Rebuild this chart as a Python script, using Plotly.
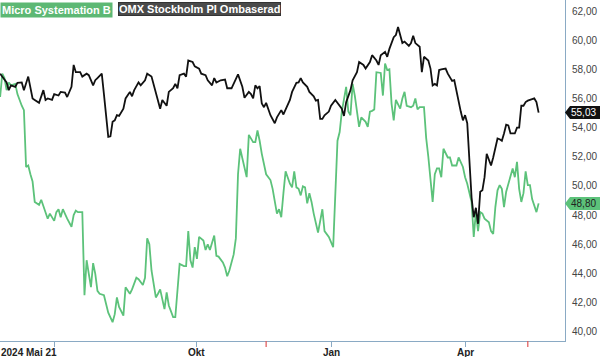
import pandas as pd
import plotly.graph_objects as go

# ---- data (trading-session index from 2024-05-21, value) ----
HOLIDAYS = ["2024-06-06", "2024-06-21", "2024-12-24", "2024-12-25", "2024-12-26",
            "2024-12-31", "2025-01-01", "2025-01-06", "2025-04-18", "2025-04-21",
            "2025-05-01", "2025-05-29", "2025-06-06"]
START = "2024-05-21"
TICK_DATES = ["2024-07-01", "2024-10-01", "2025-01-01", "2025-04-01"]
TICK_TEXT = ["", "Okt", "Jan", "Apr"]
EVENT_DATES = ["2024-11-14", "2025-05-15"]

omx_day = [2, 3, 5, 6, 7, 9, 10, 12, 13, 15, 17, 18, 20, 22, 23, 24, 26, 27, 29, 30,
           32, 33, 35, 36, 37, 39, 40, 42, 43, 45, 46, 47, 49, 50, 51, 52, 53, 54, 55, 56,
           57, 59, 60, 62, 63, 64, 66, 67, 69, 70, 72, 74, 75, 76, 77, 79, 80, 82, 83, 84,
           85, 87, 88, 89, 91, 92, 94, 95, 97, 98, 100, 101, 102, 104, 106, 107, 109, 110, 112, 114,
           115, 117, 118, 119, 120, 121, 122, 123, 124, 125, 127, 129, 130, 132, 133, 136, 137, 139, 140, 141,
           142, 144, 145, 147, 148, 149, 150, 151, 152, 154, 155, 157, 158, 160, 161, 162, 164, 165, 167, 168,
           170, 171, 173, 174, 176, 177, 178, 180, 181, 182, 184, 185, 186, 188, 189, 191, 192, 193, 194, 196,
           197, 198, 200, 201, 202, 203, 204, 205, 206, 208, 209, 211, 212, 213, 214, 215, 216, 217, 218, 219,
           220, 221, 222, 223, 224, 225, 226, 227, 228, 229, 230, 231, 232, 233, 234, 235, 236, 237, 238, 240,
           241, 242, 243, 244, 245, 246, 247, 249, 250, 251]
omx_val = [57.7, 57.5, 57.1, 56.57, 56.9, 56.8, 57.07, 57.1, 56.57, 57.5, 56.0, 55.9, 55.7, 56.57, 55.9, 56.0, 55.9, 56.3, 56.2, 56.45,
           56.4, 56.1, 56.8, 58.3, 57.8, 57.8, 57.5, 57.7, 57.6, 56.9, 57.25, 57.4, 57.7, 56.3, 54.7, 53.36, 53.4, 54.4, 54.5, 54.85,
           54.8, 55.3, 56.0, 56.45, 56.15, 56.57, 57.1, 56.9, 57.25, 57.7, 57.5, 56.3, 55.9, 55.3, 55.9, 55.5, 56.45, 56.7, 57.0, 56.7,
           57.6, 57.7, 57.5, 58.6, 58.5, 58.2, 58.05, 57.7, 57.6, 57.25, 56.9, 57.4, 57.1, 57.25, 57.3, 56.7, 56.7, 57.0, 57.65, 56.8,
           56.05, 56.45, 56.3, 56.0, 56.9, 56.7, 56.85, 55.65, 55.4, 55.7, 54.85, 54.3, 54.7, 55.2, 54.9, 55.9, 56.45, 57.07, 57.1, 57.4,
           57.1, 56.8, 56.45, 56.15, 55.85, 55.9, 54.6, 54.6, 54.85, 55.1, 55.5, 55.9, 55.7, 55.3, 54.8, 55.75, 56.57, 57.25, 57.8, 58.5,
           58.3, 58.05, 58.5, 58.97, 58.6, 58.3, 58.97, 59.2, 58.86, 59.4, 60.2, 60.35, 60.9, 59.8, 59.9, 59.6, 59.8, 60.3, 59.8, 59.55,
           57.8, 58.86, 58.6, 58.05, 56.9, 57.0, 56.9, 57.95, 58.0, 58.05, 57.7, 57.2, 57.25, 56.45, 55.65, 55.1, 54.5, 54.85, 54.3, 51.8,
           49.2, 47.85, 48.5, 47.4, 49.6, 49.7, 50.6, 52.2, 51.85, 51.4, 51.95, 52.55, 53.25, 53.2, 53.1, 53.6, 54.2, 54.15, 53.6, 53.6,
           54.0, 54.0, 55.5, 55.5, 55.75, 55.85, 55.9, 56.0, 55.75, 55.03]

msab_day = [2, 3, 4, 5, 6, 7, 9, 10, 12, 13, 14, 15, 16, 17, 18, 20, 21, 23, 24, 25,
            27, 28, 29, 30, 31, 33, 35, 36, 37, 38, 40, 41, 42, 43, 44, 45, 46, 47, 48, 50,
            51, 52, 54, 55, 56, 57, 59, 60, 62, 63, 65, 66, 68, 69, 70, 71, 72, 74, 75, 76,
            78, 79, 80, 82, 83, 85, 87, 88, 89, 90, 91, 92, 93, 94, 96, 97, 98, 99, 101, 102,
            103, 105, 106, 107, 108, 110, 111, 112, 113, 115, 116, 117, 119, 120, 121, 122, 123, 125, 127, 128,
            130, 131, 132, 133, 134, 136, 137, 138, 139, 140, 141, 142, 143, 144, 145, 146, 147, 149, 151, 152,
            154, 156, 157, 158, 159, 160, 162, 163, 164, 165, 166, 168, 169, 171, 172, 173, 174, 175, 176, 178,
            179, 180, 181, 182, 183, 184, 185, 187, 188, 189, 190, 192, 193, 194, 195, 196, 198, 199, 200, 201,
            202, 203, 204, 205, 206, 207, 208, 209, 210, 211, 213, 214, 216, 217, 218, 219, 220, 221, 222, 223,
            224, 225, 226, 228, 229, 230, 231, 232, 233, 234, 235, 236, 237, 238, 239, 240, 241, 242, 243, 244,
            245, 246, 247, 248, 249, 250, 251]
msab_val = [56.1, 57.7, 57.4, 56.57, 57.1, 56.9, 57.0, 56.3, 55.5, 55.2, 51.3, 51.4, 50.8, 50.3, 48.9, 48.7, 49.05, 48.1, 47.75, 48.1,
            47.6, 48.2, 48.4, 47.85, 48.4, 47.75, 47.2, 48.0, 48.3, 48.2, 48.2, 42.5, 44.9, 43.97, 43.05, 44.7, 43.97, 42.8, 42.6, 42.5,
            41.9, 41.3, 40.65, 41.2, 42.35, 41.7, 41.1, 43.05, 42.6, 42.9, 43.7, 43.6, 43.2, 43.7, 46.4, 46.0, 44.2, 42.35, 42.6, 42.9,
            41.55, 42.7, 41.8, 41.0, 41.0, 44.65, 44.5, 44.5, 46.9, 44.9, 44.4, 45.8, 45.0, 46.5, 46.25, 45.6, 46.0, 45.6, 46.6, 45.2,
            45.15, 44.75, 44.4, 43.8, 44.2, 45.3, 46.4, 50.8, 52.55, 51.3, 50.6, 53.5, 53.0, 53.0, 53.8, 53.1, 52.2, 50.8, 50.4, 49.8,
            48.1, 48.4, 47.85, 49.5, 51.0, 50.15, 49.9, 51.0, 49.9, 49.8, 49.35, 49.97, 49.9, 48.8, 49.5, 48.9, 48.1, 46.8, 48.4, 46.9,
            46.5, 45.8, 49.2, 53.1, 53.7, 55.1, 56.8, 55.1, 54.85, 57.0, 56.2, 54.05, 54.7, 54.4, 54.05, 55.1, 55.15, 55.25, 57.8, 57.75,
            56.2, 58.4, 57.95, 58.0, 55.65, 54.5, 55.9, 55.3, 56.0, 56.45, 55.5, 55.4, 55.5, 56.0, 55.25, 55.4, 55.4, 53.3, 52.0, 50.6,
            48.9, 50.8, 51.2, 51.2, 50.6, 52.55, 52.3, 51.95, 51.95, 51.4, 51.4, 51.95, 51.3, 50.6, 50.15, 49.5, 48.9, 46.5, 48.2, 46.9,
            48.2, 48.1, 47.75, 47.5, 46.9, 46.7, 48.55, 49.7, 50.05, 49.8, 48.55, 49.6, 50.15, 50.8, 51.2, 50.6, 51.65, 49.8, 48.9, 49.5,
            51.0, 50.05, 50.05, 49.1, 48.7, 48.2, 48.8]

Y_TICKS = [40, 42, 44, 46, 48, 50, 52, 54, 56, 58, 60, 62]
NAMES = ["Micro Systemation B", "OMX Stockholm PI Ombaserad"]
FIRST_LABEL = "2024 Mai 21"

# ---- styles ----
GREEN = "#5cc27a"
BLACK = "#111111"
AXIS = "#8aaac4"
FONT = "Arial, Liberation Sans, sans-serif"

sessions = pd.bdate_range(START, "2025-07-31", freq="C", holidays=HOLIDAYS)
tickvals = [int(sessions.searchsorted(pd.Timestamp(d))) for d in TICK_DATES]
event_idx = [int(sessions.searchsorted(pd.Timestamp(d))) for d in EVENT_DATES]

fig = go.Figure()
fig.add_trace(go.Scatter(x=msab_day, y=msab_val, mode="lines", name=NAMES[0],
                         line=dict(color=GREEN, width=1.8)))
fig.add_trace(go.Scatter(x=omx_day, y=omx_val, mode="lines", name=NAMES[1],
                         line=dict(color=BLACK, width=1.8)))

fig.update_layout(
    width=600, height=357,
    margin=dict(l=0, r=35, t=0, b=16, pad=0),
    paper_bgcolor="white", plot_bgcolor="white",
    showlegend=False,
    separators=", ",
    font=dict(family=FONT, size=10, color="#333"),
    xaxis=dict(range=[1.94, 263.2], showgrid=False, zeroline=False, automargin=False,
               showline=True, linecolor=AXIS, linewidth=1,
               ticks="outside", ticklen=5, tickcolor=AXIS,
               tickvals=tickvals, showticklabels=False),
    yaxis=dict(range=[39.36, 62.755], side="right", showgrid=False, zeroline=False,
               automargin=False,
               showline=True, linecolor=AXIS, linewidth=1,
               ticks="", tickvals=Y_TICKS, tickformat=".2f", ticklabelstandoff=4,
               tickfont=dict(size=10, color="#444", family=FONT)),
)

# x tick labels
for tv, tt in zip(tickvals, TICK_TEXT):
    if tt:
        fig.add_annotation(xref="x", yref="paper", x=tv, y=0, xanchor="center", yanchor="top",
                           yshift=-5, text="<b>%s</b>" % tt, showarrow=False, borderpad=0,
                           font=dict(size=10, color="#222", family=FONT))
# first-date label
fig.add_annotation(xref="paper", yref="paper", x=0, y=0, xanchor="left", yanchor="top",
                   yshift=-5, text="<b>%s</b>" % FIRST_LABEL, showarrow=False, borderpad=0,
                   font=dict(size=10, color="#222", family=FONT))

# event ticks
for ei in event_idx:
    fig.add_shape(type="line", xref="x", yref="paper", ysizemode="pixel", yanchor=0,
                  x0=ei, x1=ei, y0=0, y1=-6, line=dict(color="#e05555", width=1.2))

# legend boxes
fig.add_annotation(xref="paper", yref="paper", x=0, y=1, xanchor="left", yanchor="top",
                   yshift=-2, text="<b>%s</b>" % NAMES[0], showarrow=False,
                   bgcolor="#5db874", borderpad=1, font=dict(size=11, color="white", family=FONT))
fig.add_annotation(xref="paper", yref="paper", x=0, y=1, xanchor="left", yanchor="top",
                   xshift=118, yshift=-2, text="<b>%s</b>" % NAMES[1], showarrow=False,
                   bgcolor="#4a4a4a", bordercolor="#333", borderwidth=1, borderpad=0,
                   font=dict(size=11, color="white", family=FONT))

# last-value tags
for vals, bg, fg in [(omx_val, "#111111", "white"), (msab_val, "#5cc27a", "#222")]:
    last = vals[-1]
    fig.add_shape(type="path", xref="paper", yref="y", xsizemode="pixel", ysizemode="pixel",
                  xanchor=1, yanchor=last,
                  path="M 0,0 L 5,6.5 L 35,6.5 L 35,-6.5 L 5,-6.5 Z",
                  fillcolor=bg, line=dict(width=0), layer="above")
    fig.add_annotation(xref="paper", yref="y", x=1, y=last, xanchor="left", yanchor="middle",
                       xshift=5, text=f"{last:.2f}".replace(".", ","), showarrow=False,
                       borderpad=0, font=dict(size=10, color=fg, family=FONT))

fig.write_html("out.html", config={"displayModeBar": False},
               post_script="document.body.style.margin='0';")
